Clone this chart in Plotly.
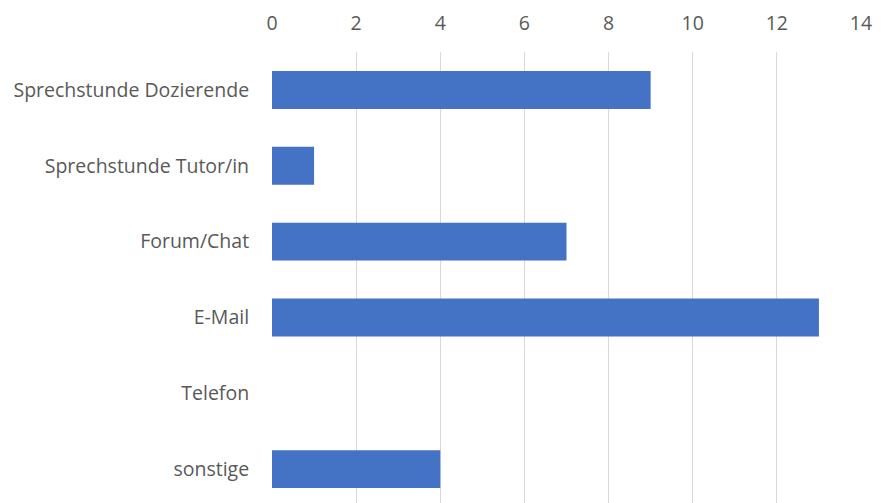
import plotly.graph_objects as go

categories = ["Sprechstunde Dozierende", "Sprechstunde Tutor/in", "Forum/Chat",
              "E-Mail", "Telefon", "sonstige"]
values = [9, 1, 7, 13, 0, 4]
tick_vals = [0, 2, 4, 6, 8, 10, 12, 14]

fig = go.Figure(go.Bar(
    x=values, y=categories, orientation="h",
    marker=dict(color="#4472C4", line=dict(width=0)),
    width=0.5,
))

# page body has an 8px default margin, so margins are compensated
fig.update_layout(
    width=881, height=503,
    margin=dict(l=264, r=28, t=44, b=8, pad=0),
    paper_bgcolor="white", plot_bgcolor="white",
    font=dict(family="Open Sans, Liberation Sans, sans-serif", size=19.5, color="#595959"),
    showlegend=False,
)
fig.update_xaxes(
    side="top", range=[0, 14], tickvals=tick_vals, automargin=False,
    showgrid=True, gridcolor="#D9D9D9", gridwidth=1.3,
    zeroline=False, showline=False,
    ticks="outside", ticklen=13, tickcolor="rgba(0,0,0,0)",
    tickfont=dict(size=19.5, color="#595959"),
)
fig.update_yaxes(
    categoryorder="array", categoryarray=categories, automargin=False,
    range=[5.447, -0.5], showgrid=False, zeroline=False, showline=False,
    ticks="outside", ticklen=18, tickcolor="rgba(0,0,0,0)",
    tickfont=dict(size=19.5, color="#595959"),
)

fig.write_html("out.html")
